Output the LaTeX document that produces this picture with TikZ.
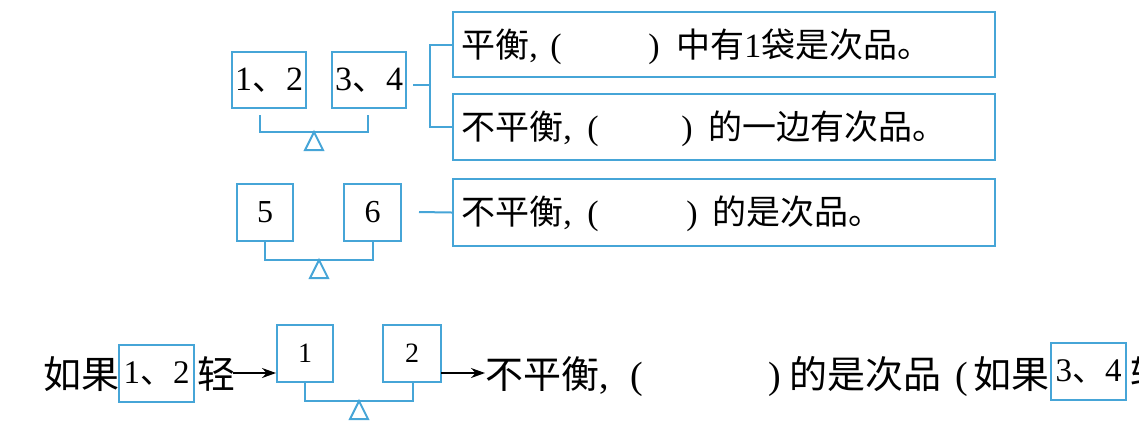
\documentclass[tikz,border=0pt]{standalone}
\usepackage{fontspec}
\setmainfont{Liberation Serif}
\newfontfamily\cjk{Noto Sans CJK SC}
\usetikzlibrary{arrows.meta}
\definecolor{lb}{RGB}{70,165,215}
\begin{document}
\begin{tikzpicture}[x=0.5pt,y=-0.5pt,
  bx/.style={draw=lb, line width=1pt, inner sep=0},
  t/.style={inner sep=0, anchor=base west, font=\fontsize{17}{17}\selectfont},
  tb/.style={inner sep=0, anchor=base west, font=\fontsize{19}{19}\selectfont},
  ln/.style={draw=lb, line width=1pt},
  arr/.style={-{Stealth[length=7pt,width=5pt]}, line width=0.8pt, black}]
\useasboundingbox (0,0) rectangle (1139,436);
\clip (0,0) rectangle (1139,436);

% ---- first weighing: 1,2 vs 3,4
\node[bx, minimum width=37pt, minimum height=28pt, font=\fontsize{17}{17}\selectfont] (bA) at (269,80) {1{\cjk 、}2};
\node[bx, minimum width=37pt, minimum height=28pt, font=\fontsize{17}{17}\selectfont] (bB) at (369,80) {3{\cjk 、}4};
\coordinate (pv1) at (314,132);
\draw[ln] ([xshift=-4.5pt,yshift=-3pt]bA.south) |- (pv1) -| ([xshift=-0.5pt,yshift=-3pt]bB.south);
\draw[ln] (pv1) -- ++(-9,18) -- ++(18,0) -- cycle;

\node[bx, minimum width=271pt, minimum height=32.5pt] (t1) at (724,44.5) {};
\node[bx, minimum width=271pt, minimum height=33pt] (t2) at (724,127) {};
\coordinate (j1) at (430,85);
\draw[ln] ([xshift=3pt,yshift=-2.5pt]bB.east) -- (j1);
\draw[ln] (t1.west) -| (j1);
\draw[ln] (j1) |- (t2.west);

\node[t] (t1a) at (461,57) {{\cjk 平衡},};
\node[t] (t1b) at (550,57) {(};
\node[t] (t1c) at (648,57) {)};
\node[t] (t1d) at (676,57) {{\cjk 中有}1{\cjk 袋是次品。}};

\node[t] (t2a) at (461,139) {{\cjk 不平衡},};
\node[t] (t2b) at (587,139) {(};
\node[t] (t2c) at (681,139) {)};
\node[t] (t2d) at (708,139) {\cjk 的一边有次品。};

% ---- second weighing: 5 vs 6
\node[bx, minimum width=28pt, minimum height=28.5pt, font=\fontsize{16}{16}\selectfont] (b5) at (265,212.5) {5};
\node[bx, minimum width=28.5pt, minimum height=28.5pt, font=\fontsize{16}{16}\selectfont] (b6) at (372.5,212.5) {6};
\coordinate (pv2) at (319,260);
\draw[ln] (b5.south) |- (pv2) -| ([xshift=0.25pt]b6.south);
\draw[ln] (pv2) -- ++(-9,18) -- ++(18,0) -- cycle;

\node[bx, minimum width=271pt, minimum height=33.5pt] (t3) at (724,212.5) {};
\coordinate (c3) at (419,212);
\draw[ln] (c3) -- (t3.west);
\node[t] (t3a) at (461,224) {{\cjk 不平衡},};
\node[t] (t3b) at (587,224) {(};
\node[t] (t3c) at (686,224) {)};
\node[t] (t3d) at (712,224) {\cjk 的是次品。};

% ---- bottom line
\node[tb] (ru1) at (43,388) {\cjk 如果};
\node[bx, minimum width=37.5pt, minimum height=28.5pt, font=\fontsize{16.5}{16.5}\selectfont] (bl) at (156.5,373.5) {1{\cjk 、}2};
\node[tb] (qing1) at (197,388) {\cjk 轻};

\node[bx, minimum width=28pt, minimum height=28.5pt, font=\fontsize{14}{14}\selectfont] (b1) at (305,353.5) {1};
\node[bx, minimum width=29pt, minimum height=28.5pt, font=\fontsize{14}{14}\selectfont] (b2) at (412,353.5) {2};
\coordinate (pv3) at (359,401);
\draw[ln] (b1.south) |- (pv3) -| ([xshift=0.5pt]b2.south);
\draw[ln] (pv3) -- ++(-9,18) -- ++(18,0) -- cycle;

\node[tb] (bt1) at (485,388) {{\cjk 不平衡},};
\node[tb] (bt2) at (630,388) {(};
\node[tb] (bt3) at (768,388) {)};
\node[tb] (bt4) at (789,388) {\cjk 的是次品};
\node[tb] (bt5) at (955,388) {(};
\node[tb, anchor=base east] (bt6) at (1050,388) {\cjk 如果};
\node[bx, minimum width=37.5pt, minimum height=28.5pt, font=\fontsize{16.5}{16.5}\selectfont] (br) at (1088.5,371.5) {3{\cjk 、}4};
\node[tb] (qing2) at (1130,388) {\cjk 轻};

\coordinate (a1) at (233,373);
\draw[arr] (a1) -- (a1 -| b1.west);
\coordinate (a2) at (441,373);
\draw[arr] (a2) -- (a2 -| bt1.west);
\end{tikzpicture}
\end{document}
